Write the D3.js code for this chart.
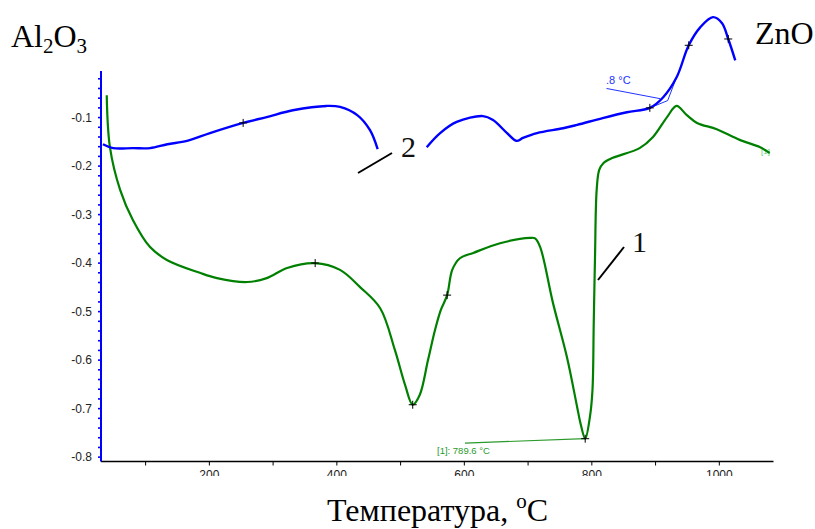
<!DOCTYPE html>
<html>
<head>
<meta charset="utf-8">
<script src="https://cdn.jsdelivr.net/npm/d3@7"></script>
<style>
body { margin: 0; background: #fff; }
svg { display: block; }
</style>
</head>
<body>
<svg id="chart" width="815" height="529"></svg>
<script>
// curve 1 (Al2O3), [temperature, signal]
var curve1 = [
    [39, -0.055], [44, -0.162], [60, -0.250], [80, -0.312], [107, -0.368],
    [134, -0.395], [185, -0.421], [212, -0.432], [259, -0.440], [290, -0.432],
    [322, -0.411], [366, -0.401], [405, -0.415], [436, -0.450], [468, -0.494],
    [491, -0.580], [507, -0.652], [519, -0.693], [530, -0.673], [543, -0.601],
    [554, -0.539], [563, -0.498], [573, -0.467], [581, -0.415], [593, -0.391],
    [614, -0.380], [656, -0.360], [703, -0.349], [711, -0.350], [719, -0.368],
    [739, -0.483], [761, -0.595], [777, -0.698], [782, -0.730], [789.6, -0.763],
    [797, -0.718], [801, -0.663], [803, -0.524], [805, -0.388], [807.6, -0.250],
    [811.6, -0.209], [818, -0.195], [833, -0.184], [875, -0.164], [896, -0.141],
    [918, -0.100], [933, -0.077], [949, -0.096], [965, -0.112], [996, -0.125],
    [1032, -0.147], [1064, -0.162], [1079, -0.174]
];

// curve 2 (ZnO), drawn in two pieces around the "2" label
var curve2a = [
    [33, -0.156], [49, -0.164], [80, -0.164], [107, -0.164], [134, -0.156],
    [165, -0.149], [201, -0.133], [253, -0.112], [290, -0.100], [331, -0.086],
    [384, -0.077], [405, -0.079], [432, -0.096], [452, -0.127], [464, -0.166]
];
var curve2b = [
    [541, -0.162], [562, -0.133], [588, -0.110], [629, -0.098], [645, -0.106],
    [667, -0.133], [682, -0.149], [692, -0.143], [714, -0.133], [755, -0.123],
    [777, -0.116], [817, -0.102], [855, -0.090], [891, -0.081], [912, -0.059],
    [933, -0.018], [952, 0.048], [970, 0.085], [990, 0.106], [1004, 0.094],
    [1014, 0.061], [1025, 0.017]
];

var marks1 = [[366, -0.401], [519, -0.693], [573, -0.467], [789.6, -0.763]];
var marks2 = [[253, -0.112], [891, -0.081], [952, 0.048], [1014, 0.061]];

var xTicks = [100, 200, 300, 400, 500, 600, 700, 800, 900, 1000];
var xLabels = [200, 400, 600, 800, 1000];
var yLabels = [-0.1, -0.2, -0.3, -0.4, -0.5, -0.6, -0.7, -0.8];

var svg = d3.select('#chart');

var x = d3.scaleLinear().domain([30, 1085]).range([101, 773.5]);
var y = d3.scaleLinear().domain([-0.81, -0.005]).range([461.5, 71]);

var line = d3.line()
    .x(function(d) { return x(d[0]); })
    .y(function(d) { return y(d[1]); })
    .curve(d3.curveCatmullRom.alpha(0.5));
var straight = d3.line()
    .x(function(d) { return x(d[0]); })
    .y(function(d) { return y(d[1]); });

// x axis, labels cut short at the bottom like the scan
svg.append('defs').append('clipPath').attr('id', 'xclip')
    .append('rect').attr('x', -10).attr('y', -6).attr('width', 830).attr('height', 20.5);

var xAxis = svg.append('g')
    .attr('transform', 'translate(0,' + y.range()[0] + ')')
    .attr('clip-path', 'url(#xclip)');
xAxis.append('line')
    .attr('x1', x.range()[0]).attr('x2', x.range()[1])
    .attr('stroke', '#000').attr('stroke-width', 1.6);
xAxis.selectAll('.xt').data(xTicks).enter().append('line')
    .attr('x1', function(d) { return x(d); }).attr('x2', function(d) { return x(d); })
    .attr('y1', 0).attr('y2', 4)
    .attr('stroke', '#000').attr('stroke-width', 1);
xAxis.selectAll('.xl').data(xLabels).enter().append('text')
    .attr('x', function(d) { return x(d); })
    .attr('y', 17)
    .attr('text-anchor', 'middle')
    .attr('font-family', 'Liberation Sans, Arial, sans-serif')
    .attr('font-size', 12)
    .attr('fill', '#222')
    .text(function(d) { return d; });

// y axis (blue)
var yAxis = d3.axisLeft(y)
    .tickValues(d3.range(-0.8, -0.001, 0.02).map(function(v) { return +v.toFixed(2); }))
    .tickSize(3)
    .tickFormat('');
var gy = svg.append('g').attr('transform', 'translate(' + x.range()[0] + ',0)').call(yAxis);
gy.select('.domain').remove();
gy.selectAll('.tick line').attr('stroke', '#0000ff').attr('stroke-width', 1.6);
svg.append('line')
    .attr('x1', x.range()[0]).attr('x2', x.range()[0])
    .attr('y1', y.range()[1]).attr('y2', y.range()[0])
    .attr('stroke', '#0000ff').attr('stroke-width', 2);
svg.selectAll('.yl').data(yLabels).enter().append('text')
    .attr('x', 92)
    .attr('y', function(d) { return y(d) + 4.5; })
    .attr('text-anchor', 'end')
    .attr('font-family', 'Liberation Sans, Arial, sans-serif')
    .attr('font-size', 12)
    .attr('fill', '#222')
    .text(function(d) { return d.toFixed(1); });

// annotation lines
svg.append('line')
    .attr('x1', x(601)).attr('y1', y(-0.772))
    .attr('x2', x(789.6)).attr('y2', y(-0.763))
    .attr('stroke', '#2a9a2a').attr('stroke-width', 1.2);
svg.append('text')
    .attr('x', 437).attr('y', 454)
    .attr('font-family', 'Liberation Sans, Arial, sans-serif')
    .attr('font-size', 9.5)
    .attr('fill', '#2a9a2a')
    .text('[1]: 789.6 °C');

svg.append('line')
    .attr('x1', x(823)).attr('y1', y(-0.041))
    .attr('x2', x(907)).attr('y2', y(-0.062))
    .attr('stroke', '#2233ff').attr('stroke-width', 1);
svg.append('path')
    .attr('d', straight([[891, -0.081], [919, -0.066], [932, -0.021]]))
    .attr('fill', 'none').attr('stroke', '#2233ff').attr('stroke-width', 1);
svg.append('text')
    .attr('x', 606).attr('y', 84)
    .attr('font-family', 'Liberation Sans, Arial, sans-serif')
    .attr('font-size', 11)
    .attr('fill', '#2233ff')
    .text('.8 °C');
svg.append('text')
    .attr('x', 761).attr('y', 154)
    .attr('font-family', 'Liberation Sans, Arial, sans-serif')
    .attr('font-size', 8)
    .attr('fill', '#6c6')
    .text('[1]');

// curves
svg.append('path').attr('d', line(curve1))
    .attr('fill', 'none').attr('stroke', '#008000').attr('stroke-width', 2.2);
[curve2a, curve2b].forEach(function(c) {
    svg.append('path').attr('d', line(c))
        .attr('fill', 'none').attr('stroke', '#0000ff').attr('stroke-width', 2.4);
});

// "+" markers
svg.selectAll('.mk').data(marks1.concat(marks2)).enter().append('path')
    .attr('d', 'M-4,0H4M0,-4V4')
    .attr('transform', function(d) { return 'translate(' + x(d[0]) + ',' + y(d[1]) + ')'; })
    .attr('stroke', '#000').attr('stroke-width', 1);

// curve numbers with leader lines
svg.append('line').attr('x1', 358).attr('y1', 173).attr('x2', 392).attr('y2', 153)
    .attr('stroke', '#000').attr('stroke-width', 2);
svg.append('line').attr('x1', 598).attr('y1', 280).attr('x2', 624).attr('y2', 247)
    .attr('stroke', '#000').attr('stroke-width', 2);

var serif = 'Liberation Serif, Times New Roman, serif';
svg.append('text').attr('x', 401).attr('y', 157)
    .attr('font-family', serif).attr('font-size', 30).attr('fill', '#111').text('2');
svg.append('text').attr('x', 632).attr('y', 252)
    .attr('font-family', serif).attr('font-size', 30).attr('fill', '#111').text('1');

var al = svg.append('text').attr('x', 11).attr('y', 47)
    .attr('font-family', serif).attr('font-size', 32).attr('fill', '#000');
al.append('tspan').text('Al');
al.append('tspan').attr('font-size', 21).attr('dy', 6).text('2');
al.append('tspan').attr('dy', -6).text('O');
al.append('tspan').attr('font-size', 21).attr('dy', 6).text('3');

svg.append('text').attr('x', 755).attr('y', 44)
    .attr('font-family', serif).attr('font-size', 32).attr('fill', '#000').text('ZnO');

var xt = svg.append('text').attr('x', 327).attr('y', 521)
    .attr('font-family', serif).attr('font-size', 32).attr('fill', '#000');
xt.append('tspan').text('Температура, ');
xt.append('tspan').attr('font-size', 21).attr('dy', -13).text('o');
xt.append('tspan').attr('dy', 13).text('C');
</script>
</body>
</html>
